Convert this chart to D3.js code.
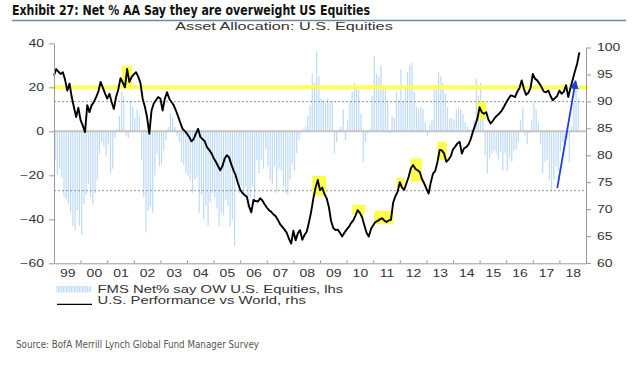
<!DOCTYPE html>
<html>
<head>
<meta charset="utf-8">
<script src="https://cdn.jsdelivr.net/npm/d3@7"></script>
<style>
  body { margin: 0; background: #fff; }
  svg { display: block; }
</style>
</head>
<body>
<div id="container"></div>
<script>
// x-axis labels, one per year 1999..2018
const yearLabels = ["99","00","01","02","03","04","05","06","07","08","09","10","11","12","13","14","15","16","17","18"];

// FMS net % overweight US equities (lhs), monthly from Jan 1999
const barValues = [
  -13,-20,-17,-21,-30,-31,-33,-37,-43,-45,-36,-43,
  -47,-33,-29,-24,-30,-33,-28,-22,-10,-5,-7,-11,
  -6,-19,-17,-3,1,7,18,16,-2,-3,14,11,
  6,10,7,-13,-30,-46,-36,-34,-37,-20,-10,-16,
  -15,-9,-4,2,8,6,2,-2,-5,-14,-15,-19,
  -20,-22,-28,-22,-21,-37,-29,-40,-34,-43,-32,-28,
  -30,-35,-43,-37,-38,-31,-34,-43,-40,-52,-22,-28,
  -25,-28,-25,-35,-30,-25,-31,-13,-19,-13,-17,-8,
  -16,-22,-24,-16,-28,-17,-18,-25,-28,-29,-22,-15,
  -18,-10,-4,-1,1,2,7,12,26,22,36,25,
  15,14,13,15,13,14,-10,-5,1,2,10,-4,
  5,14,18,22,20,19,8,-14,-5,-1,1,16,
  34,26,25,30,21,19,13,-1,7,6,18,14,
  28,14,20,27,30,31,18,11,10,11,10,4,
  -2,3,5,20,19,27,25,22,17,11,6,6,
  5,10,11,10,8,4,2,1,1,5,24,16,
  22,11,-11,-19,-12,-10,-9,-10,-13,-9,-18,-10,
  -18,-12,-14,-9,-8,-5,5,11,-2,-6,-1,5,
  13,10,4,-6,-19,-14,-13,-22,-27,-22,-16,-18,
  -9,-5,-6,-3,-14,2,13,19,15
];

// US performance vs world (rhs), monthly from Jan 1999
const lineValues = [
  94.8,96.0,95.5,95.1,95.4,94.0,92.0,93.3,90.8,88.9,87.1,88.8,
  86.5,85.5,84.3,89.3,88.0,89.3,89.9,90.8,91.8,93.6,92.6,91.5,
  90.5,91.4,89.9,88.6,90.8,92.2,94.3,93.5,92.6,96.0,93.6,94.5,
  95.0,95.4,94.6,93.4,90.5,89.0,87.0,84.0,88.3,89.6,90.2,90.8,
  90.5,88.3,90.5,91.7,90.5,89.9,89.3,88.3,87.2,86.0,84.9,84.5,
  84.0,83.4,82.6,83.0,84.0,84.9,83.4,83.0,82.6,81.5,81.0,80.4,
  79.5,78.8,78.0,77.2,78.0,79.4,80.0,79.6,78.3,77.2,76.2,74.8,
  73.6,73.0,72.6,72.3,70.5,69.4,71.7,71.5,71.4,72.0,71.6,70.9,
  70.3,69.8,69.5,69.0,68.7,68.0,67.2,66.7,66.2,65.6,64.5,63.6,
  66.0,64.2,65.5,66.1,64.3,65.2,65.8,67.5,69.5,72.0,74.0,75.4,
  73.5,74.0,72.8,72.0,70.4,67.8,66.5,66.1,66.2,65.6,64.9,65.6,
  66.2,66.7,67.4,67.9,68.8,69.8,69.3,68.5,67.0,65.6,64.9,66.3,
  67.0,67.6,67.8,68.1,68.3,67.9,67.6,67.9,68.0,71.2,72.4,73.2,
  75.0,74.0,73.6,74.8,76.0,77.6,78.2,77.5,77.2,76.9,75.6,74.8,
  73.8,72.9,75.0,76.6,77.1,78.8,81.0,80.9,80.3,78.8,79.2,79.8,
  81.1,81.6,82.2,82.5,80.3,81.3,81.5,82.0,83.0,84.4,85.6,86.8,
  88.9,88.0,87.7,88.0,86.6,85.9,86.4,87.0,87.4,87.8,88.3,89.0,
  89.8,90.5,91.1,91.0,90.8,91.8,92.5,93.9,92.3,91.2,91.6,92.5,
  95.1,94.2,93.9,93.3,92.6,91.8,91.7,92.0,91.0,90.2,90.6,91.0,
  92.0,91.4,91.8,93.0,90.8,92.5,94.0,95.6,97.0,99.1
];

// highlighted spots on the line: [fromYear, toYear, rhsLow, rhsHigh]
const highlightBoxes = [
  [2001.55, 2001.94, 92.7, 96.6],
  [2008.71, 2009.23, 72.5, 76.2],
  [2010.21, 2010.69, 69.0, 70.8],
  [2011.03, 2011.76, 67.2, 69.7],
  [2011.88, 2012.17, 73.9, 75.8],
  [2012.40, 2012.83, 75.1, 79.4],
  [2013.41, 2013.77, 79.1, 82.5],
  [2014.91, 2015.24, 86.7, 89.9]
];

// blue arrow, [year, rhs]
const arrowFrom = [2017.92, 73.9];
const arrowTo = [2018.61, 93.8];

const yellowLevel = 20;          // lhs
const dashedLevels = [13.5, -27]; // lhs
const leftTicks = [-60, -40, -20, 0, 20, 40];
const rightTicks = [60, 65, 70, 75, 80, 85, 90, 95, 100];

const width = 640;
const height = 372;
const sx = 1.4; // the original chart text is stretched sideways
const sans = "'Liberation Sans', Arial, sans-serif";
const narrow = "'Liberation Sans Narrow', 'DejaVu Sans Condensed', 'Open Sans', sans-serif";

const x = d3.scaleLinear().domain([1999, 2019]).range([54, 586]);
const yL = d3.scaleLinear().domain([-60, 40]).range([263.3, 43.3]);
const yR = d3.scaleLinear().domain([60, 100]).range([263, 47.5]);

const svg = d3.select("#container")
  .append("svg")
  .attr("width", width)
  .attr("height", height);

// Title + rule
svg.append("text")
  .attr("x", 12)
  .attr("y", 15)
  .attr("font-family", narrow)
  .attr("font-weight", "bold")
  .attr("font-size", 14)
  .attr("fill", "#111")
  .attr("textLength", 358)
  .attr("lengthAdjust", "spacingAndGlyphs")
  .text("Exhibit 27: Net % AA Say they are overweight US Equities");

svg.append("line")
  .attr("x1", 12).attr("x2", 626)
  .attr("y1", 20.5).attr("y2", 20.5)
  .attr("stroke", "#6a88a8")
  .attr("stroke-width", 1.5);

svg.append("text")
  .attr("transform", `translate(284,30) scale(${sx},1)`)
  .attr("text-anchor", "middle")
  .attr("font-family", sans)
  .attr("font-size", 11.6)
  .attr("fill", "#333")
  .text("Asset Allocation: U.S. Equities");

// bars
const barDates = barValues.map((v, i) => 1999 + (i + 0.5) / 12);
svg.append("g")
  .selectAll("rect")
  .data(barValues)
  .join("rect")
  .attr("x", (d, i) => x(barDates[i]) - 0.6)
  .attr("width", 1.2)
  .attr("y", d => Math.min(yL(d), yL(0)))
  .attr("height", d => Math.abs(yL(d) - yL(0)))
  .attr("fill", "#bcdaf8");

// reference lines
svg.append("line")
  .attr("x1", x(1999)).attr("x2", x(2019))
  .attr("y1", yL(0)).attr("y2", yL(0))
  .attr("stroke", "#c4c4c4")
  .attr("stroke-width", 2);

svg.selectAll(".dash")
  .data(dashedLevels)
  .join("line")
  .attr("class", "dash")
  .attr("x1", x(1999)).attr("x2", x(2019))
  .attr("y1", d => yL(d)).attr("y2", d => yL(d))
  .attr("stroke", "#777")
  .attr("stroke-width", 0.8)
  .attr("stroke-dasharray", "2,2");

svg.append("line")
  .attr("x1", x(1999)).attr("x2", x(2019) + 2)
  .attr("y1", yL(yellowLevel)).attr("y2", yL(yellowLevel))
  .attr("stroke", "#ffff55")
  .attr("stroke-width", 4);

// highlight boxes
svg.append("g")
  .selectAll("rect")
  .data(highlightBoxes)
  .join("rect")
  .attr("x", d => x(d[0]))
  .attr("width", d => x(d[1]) - x(d[0]))
  .attr("y", d => yR(d[3]))
  .attr("height", d => yR(d[2]) - yR(d[3]))
  .attr("fill", "#ffff4a");

// performance line
const line = d3.line()
  .x((d, i) => x(1999 + i / 12))
  .y(d => yR(d));

svg.append("path")
  .datum(lineValues)
  .attr("d", line)
  .attr("fill", "none")
  .attr("stroke", "#000")
  .attr("stroke-width", 1.9)
  .attr("stroke-linejoin", "round");

// arrow
svg.append("defs").append("marker")
  .attr("id", "head")
  .attr("viewBox", "0 0 10 10")
  .attr("refX", 9).attr("refY", 5)
  .attr("markerWidth", 5).attr("markerHeight", 5)
  .attr("orient", "auto")
  .append("path")
  .attr("d", "M0,0L10,5L0,10Z")
  .attr("fill", "#1f3de6");

svg.append("line")
  .attr("x1", x(arrowFrom[0])).attr("y1", yR(arrowFrom[1]))
  .attr("x2", x(arrowTo[0])).attr("y2", yR(arrowTo[1]))
  .attr("stroke", "#1f3de6")
  .attr("stroke-width", 1.8)
  .attr("marker-end", "url(#head)");

// axes
function styleAxis(g) {
  g.select(".domain").attr("stroke", "#9a9a9a");
  g.selectAll(".tick line").attr("stroke", "#9a9a9a");
  g.selectAll("text")
    .attr("font-family", sans)
    .attr("font-size", 10)
    .attr("fill", "#333");
}

svg.append("g")
  .attr("transform", `translate(${x(1999)},0)`)
  .call(d3.axisLeft(yL).tickValues(leftTicks).tickSize(5).tickSizeOuter(0))
  .call(styleAxis)
  .call(g => g.selectAll("text")
    .attr("x", null)
    .attr("dy", "0.34em")
    .attr("transform", `translate(-10,0) scale(${sx},1)`));

svg.append("g")
  .attr("transform", `translate(${x(2019)},0)`)
  .call(d3.axisRight(yR).tickValues(rightTicks).tickSize(5).tickSizeOuter(0))
  .call(styleAxis)
  .call(g => g.selectAll("text")
    .attr("x", null)
    .attr("dy", "0.34em")
    .attr("transform", `translate(11,0) scale(${sx},1)`));

// year boundary ticks (pointing up) and year labels
svg.append("g")
  .attr("transform", `translate(0,${yL(-60)})`)
  .call(d3.axisBottom(x).tickValues(d3.range(2000, 2019)).tickSize(-3).tickSizeOuter(0).tickFormat(""))
  .call(styleAxis);

svg.append("g")
  .attr("transform", `translate(0,${yL(-60)})`)
  .call(d3.axisBottom(x).tickValues(d3.range(1999.5, 2019, 1)).tickSize(0).tickFormat((d, i) => yearLabels[i]))
  .call(styleAxis)
  .call(g => g.select(".domain").remove())
  .call(g => g.selectAll("text")
    .attr("y", null)
    .attr("dy", null)
    .attr("transform", `translate(0,13.5) scale(${sx},1)`));

// legend
const legend = svg.append("g");
legend.selectAll(".hatch")
  .data(d3.range(57, 92, 1.6))
  .join("line")
  .attr("class", "hatch")
  .attr("x1", d => d).attr("x2", d => d)
  .attr("y1", 286).attr("y2", 292.5)
  .attr("stroke", "#a9cff5")
  .attr("stroke-width", 0.8);

legend.append("line")
  .attr("x1", 57).attr("x2", 92)
  .attr("y1", 304.3).attr("y2", 304.3)
  .attr("stroke", "#000")
  .attr("stroke-width", 1.3);

legend.append("text")
  .attr("transform", `translate(97.5,293) scale(${sx * 1.02},1)`)
  .attr("font-family", sans)
  .attr("font-size", 10.4)
  .attr("fill", "#333")
  .text("FMS Net% say OW U.S. Equities, lhs");

legend.append("text")
  .attr("transform", `translate(97.5,303.6) scale(${sx * 1.02},1)`)
  .attr("font-family", sans)
  .attr("font-size", 10.4)
  .attr("fill", "#333")
  .text("U.S. Performance vs World, rhs");

// source
svg.append("text")
  .attr("x", 16)
  .attr("y", 348)
  .attr("font-family", narrow)
  .attr("font-size", 10)
  .attr("fill", "#555")
  .attr("textLength", 243)
  .attr("lengthAdjust", "spacingAndGlyphs")
  .text("Source:  BofA Merrill Lynch Global Fund Manager Survey");
</script>
</body>
</html>
